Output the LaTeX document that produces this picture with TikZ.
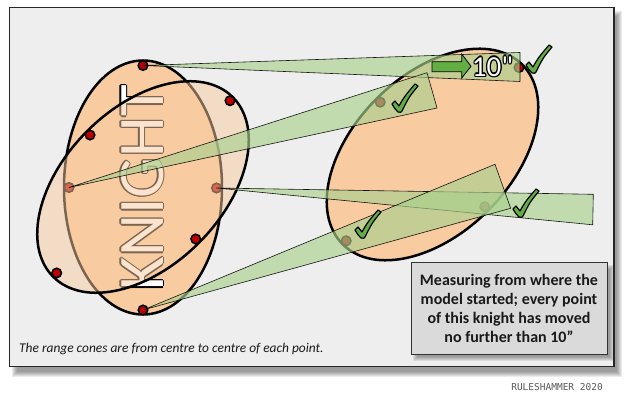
\documentclass[tikz,border=0pt]{standalone}
\usepackage{fontspec}
\setmainfont{Carlito}
\newfontfamily\plainfont{Carlito}[Ligatures=TeXOff]
\newfontfamily\credfont{DejaVu Sans Mono}
\definecolor{bgc}{HTML}{EEEEEE}
\definecolor{orng}{HTML}{F8CBA0}
\definecolor{ptred}{HTML}{C00000}
\definecolor{conegreen}{HTML}{A9D18E}
\definecolor{chkgreen}{HTML}{62AE45}
\definecolor{boxgray}{HTML}{DADADA}
\tikzset{
  dot/.style={circle, fill=ptred, draw=black, line width=1.6pt, minimum size=9.5pt, inner sep=0pt},
  knight/.style={fill=orng, draw=black, line width=2.5pt},
  cone/.style={fill=conegreen, fill opacity=0.65, draw=black, draw opacity=0.9, line width=0.6pt, line join=round},
  chk/.pic={\draw[fill=chkgreen, line width=1.2pt, line join=round]
    (0,1) .. controls (-3,-2) .. (-6,-7) -- (-3,-10) .. controls (-1,-8) .. (1,-5)
    .. controls (6,-14) .. (17,-27) -- (20,-25) .. controls (11,-14) .. (4,0)
    .. controls (3,1.5) .. (0,1) -- cycle;},
  kfont/.style={font=\fontsize{65}{70}\selectfont, inner sep=0pt, rotate=90, anchor=base},
  tfont/.style={font=\plainfont\fontsize{29}{30}\selectfont, inner sep=0pt},
}
\begin{document}
\begin{tikzpicture}[x=1pt,y=-1pt]
\useasboundingbox (0,0) rectangle (624,406);
% frame shadow
\foreach \k in {0,...,5}{
  \fill[black,opacity=0.08] ({11.5+\k},{11.5+\k}) rectangle ({622-\k},{376.5-\k});
}
\draw[fill=bgc, draw=black!85, line width=1.2pt] (9.5,7.5) rectangle (614,366.5);

% original knight (vertical)
\draw[knight] (143,187.5) ellipse [x radius=79, y radius=127];
\foreach \a in {0,45,...,315}{
  \node[kfont, text=black, xshift={1.4*cos(\a)}, yshift={1.4*sin(\a)}] (ko\a) at (163,188) {KNIGHT};
}
\node[kfont, text=white] (ktext) at (163,188) {KNIGHT};
\node[dot] (kT) at (143,65.5) {};
\node[dot] (kB) at (143,310) {};
\node[dot] (kL) at (69,187.5) {};
\node[dot] (kR) at (216.5,188) {};

% rotated knight
\draw[knight, fill opacity=0.5, rotate around={-45:(143,187)}] (143,187) ellipse [x radius=79, y radius=127];
\node[dot] (t1) at (230,100.7) {};
\node[dot] (t2) at (90,135) {};
\node[dot] (t3) at (195.7,239) {};
\node[dot] (t4) at (56.7,273) {};

% moved knight
\draw[knight, rotate around={-45:(432.5,154.5)}] (432.5,154.5) ellipse [x radius=79, y radius=127];
\node[dot] (mT) at (519,67.5) {};
\node[dot] (mL) at (380.2,102.2) {};
\node[dot] (mR) at (484.8,206.8) {};
\node[dot] (mB) at (346.2,240.8) {};

% cones
\coordinate (c1a) at (520,52.5);   \coordinate (c1b) at (520,81.5);
\coordinate (c2a) at (427,72.7);   \coordinate (c2b) at (437,108);
\coordinate (c3a) at (593.3,194.3);\coordinate (c3b) at (592.7,224.8);
\coordinate (c4a) at (495,164.3);  \coordinate (c4b) at (510.7,208.3);
\draw[cone] (kT.center) -- (c1a) -- (c1b) -- cycle;
\draw[cone] (kL.center) -- (c2a) -- (c2b) -- cycle;
\draw[cone] (kR.center) -- (c3a) -- (c3b) -- cycle;
\draw[cone] (kB.center) -- (c4a) -- (c4b) -- cycle;

% checks
\pic (ck1) at (532,72) {chk};
\pic (ck2) at (398,111) {chk};
\pic (ck3) at (361,237) {chk};
\pic (ck4) at (519,216) {chk};

% 10" arrow and label
\draw[fill=chkgreen, line width=0.8pt, line join=miter] (432,61.7) -- (461.7,61.7) -- (461.7,54) -- (471,66.3) -- (461.7,78) -- (461.7,71.7) -- (432,71.7) -- cycle;
\foreach \a in {0,45,...,315}{
  \node[tfont, text=black, xshift={1.2*cos(\a)}, yshift={1.2*sin(\a)}] (to\a) at (492.5,66.5) {10"};
}
\node[tfont, text=white] (ten) at (492.5,66.5) {10"};

% note box
\foreach \k in {0,...,4}{
  \fill[black,opacity=0.08] ({413+\k},{265+\k}) rectangle ({614-\k},{361-\k});
}
\node[fill=boxgray, draw=black!80, line width=0.8pt, minimum width=196pt, minimum height=92pt, inner sep=0pt,
  align=center, font=\bfseries\fontsize{16}{19}\selectfont, text=black!90] (note) at (509,308)
  {Measuring from where the\\model started; every point\\of this knight has moved\\no further than 10”};

% caption and credit
\node[anchor=west, inner sep=0pt, font=\itshape\fontsize{13.4}{15}\selectfont, text=black!90] (cap) at (19,349)
  {The range cones are from centre to centre of each point.};
\node[anchor=east, inner sep=0pt, font=\credfont\fontsize{9.5}{11}\selectfont, text=black!65] (cred) at (603,387)
  {RULESHAMMER 2020};
\end{tikzpicture}
\end{document}
